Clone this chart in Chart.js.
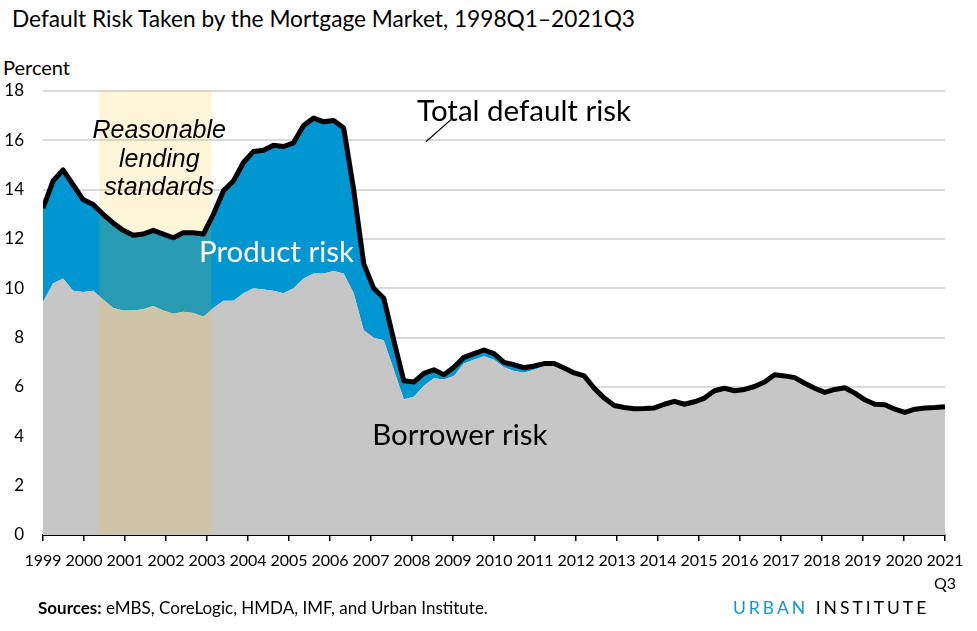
<!DOCTYPE html>
<html>
<head>
<meta charset="utf-8">
<script src="https://cdn.jsdelivr.net/npm/chart.js@4.4.0/dist/chart.umd.min.js"></script>
<style>
  body { margin: 0; background: #fff; font-family: Lato, 'Noto Sans', sans-serif; }
  #wrap { position: relative; width: 977px; height: 631px; overflow: hidden; }
  #box { position: absolute; left: 0; top: 0; width: 977px; height: 600px; }
  .title { position: absolute; left: 12px; top: 5px; font-size: 22.7px; color: #000; white-space: nowrap; }
  .unit { position: absolute; left: 3px; top: 55px; font-size: 20px; color: #000; }
  .source { position: absolute; left: 38px; top: 597px; font-size: 17px; color: #000; }
  .logo { position: absolute; left: 733px; top: 597px; font-size: 17.5px; letter-spacing: 3px; color: #000; }
  .logo span { color: #1696d2; }
</style>
</head>
<body>
<div id="wrap">
  <div class="title">Default Risk Taken by the Mortgage Market, 1998Q1–2021Q3</div>
  <div class="unit">Percent</div>
  <div id="box"><canvas id="riskChart"></canvas></div>
  <div class="source"><b>Sources:</b> eMBS, CoreLogic, HMDA, IMF, and Urban Institute.</div>
  <div class="logo"><span>URBAN</span> INSTITUTE</div>
</div>
<script>
// quarterly values, 1999Q1 .. 2021Q3
const borrowerRisk = [
  9.45, 10.2, 10.4, 9.9, 9.85, 9.9, 9.55, 9.2, 9.1, 9.1,
  9.15, 9.28, 9.1, 8.97, 9.05, 9.0, 8.85, 9.2, 9.5, 9.5,
  9.8, 10.0, 9.95, 9.9, 9.8, 10.0, 10.4, 10.6, 10.6, 10.7,
  10.6, 9.8, 8.3, 8.0, 7.9, 6.7, 5.5, 5.6, 6.05, 6.35,
  6.3, 6.45, 6.95, 7.1, 7.25, 7.1, 6.8, 6.65, 6.58, 6.7,
  6.85, 6.88, 6.7, 6.5, 6.4, 5.9, 5.5, 5.2, 5.1, 5.05,
  5.08, 5.12, 5.27, 5.4, 5.28, 5.38, 5.53, 5.83, 5.93, 5.83,
  5.88, 6.0, 6.18, 6.48, 6.43, 6.36, 6.13, 5.93, 5.76, 5.88,
  5.95, 5.73, 5.46, 5.28, 5.26, 5.08, 4.95, 5.08, 5.13, 5.15,
  5.18
];
const totalRisk = [
  13.25, 14.35, 14.8, 14.2, 13.6, 13.4, 13.0, 12.65, 12.35, 12.15,
  12.2, 12.35, 12.2, 12.05, 12.25, 12.25, 12.2, 13.0, 13.95, 14.35,
  15.1, 15.55, 15.6, 15.8, 15.75, 15.9, 16.6, 16.9, 16.75, 16.8,
  16.5, 14.0, 11.0, 10.0, 9.6, 7.9, 6.25, 6.2, 6.55, 6.7,
  6.5, 6.8, 7.2, 7.35, 7.5, 7.35, 7.0, 6.9, 6.78, 6.85,
  6.95, 6.95, 6.77, 6.57, 6.45, 5.95, 5.55, 5.25, 5.17, 5.12,
  5.13, 5.15, 5.3, 5.42, 5.3, 5.4, 5.55, 5.85, 5.95, 5.85,
  5.9, 6.02, 6.2, 6.5, 6.45, 6.38, 6.15, 5.95, 5.78, 5.9,
  5.97, 5.75, 5.48, 5.3, 5.28, 5.1, 4.97, 5.1, 5.15, 5.17,
  5.2
];
const yearLabels = ['1999','2000','2001','2002','2003','2004','2005','2006','2007','2008','2009',
  '2010','2011','2012','2013','2014','2015','2016','2017','2018','2019','2020','2021'];
const lastTickNote = 'Q3';

// shaded "reasonable lending" period, in quarter index
const bandStart = 5.6;
const bandEnd = 16.8;

const lastIndex = totalRisk.length - 1;
const toPoints = arr => arr.map((v, i) => ({ x: i, y: v }));

const annotations = {
  id: 'annotations',
  beforeDatasetsDraw(chart) {
    const { ctx, chartArea, scales: { x } } = chart;
    ctx.save();
    ctx.fillStyle = 'rgba(255,190,0,0.15)';
    const x0 = x.getPixelForValue(bandStart), x1 = x.getPixelForValue(bandEnd);
    ctx.fillRect(x0, chartArea.top, x1 - x0, chartArea.bottom - chartArea.top);
    ctx.restore();
  },
  afterDatasetsDraw(chart) {
    const { ctx, scales: { x, y } } = chart;
    ctx.save();
    ctx.textAlign = 'center';
    ctx.textBaseline = 'middle';

    ctx.fillStyle = '#000';
    ctx.font = 'italic 25px "Liberation Sans", Arial, sans-serif';
    const cx = x.getPixelForValue(11.6);
    ctx.fillText('Reasonable', cx, y.getPixelForValue(16.38));
    ctx.fillText('lending', cx, y.getPixelForValue(15.22));
    ctx.fillText('standards', cx, y.getPixelForValue(14.05));

    ctx.font = '29.5px Lato, sans-serif';
    ctx.fillStyle = '#fff';
    ctx.fillText('Product risk', x.getPixelForValue(23.3), y.getPixelForValue(11.45));
    ctx.fillStyle = '#000';
    ctx.fillText('Total default risk', x.getPixelForValue(48.0), y.getPixelForValue(17.15));
    ctx.fillText('Borrower risk', x.getPixelForValue(41.6), y.getPixelForValue(4.05));

    ctx.strokeStyle = '#000';
    ctx.lineWidth = 1.3;
    ctx.beginPath();
    ctx.moveTo(x.getPixelForValue(38.2), y.getPixelForValue(15.94));
    ctx.lineTo(x.getPixelForValue(40.8), y.getPixelForValue(16.87));
    ctx.stroke();
    ctx.restore();
  }
};

const ctx = document.getElementById('riskChart').getContext('2d');
new Chart(ctx, {
  type: 'line',
  data: {
    datasets: [{
      label: 'Borrower risk',
      data: toPoints(borrowerRisk),
      borderWidth: 0,
      borderColor: 'rgba(0,0,0,0)',
      backgroundColor: '#c6c6c6',
      fill: 'origin',
      pointRadius: 0,
      tension: 0
    }, {
      label: 'Total default risk',
      data: toPoints(totalRisk),
      borderColor: '#000',
      borderWidth: 5,
      backgroundColor: '#0096d2',
      fill: '-1',
      pointRadius: 0,
      tension: 0,
      borderJoinStyle: 'round'
    }]
  },
  options: {
    responsive: true,
    maintainAspectRatio: false,
    animation: false,
    layout: { padding: { top: 91, right: 32, left: 0, bottom: 0 } },
    plugins: {
      legend: { display: false },
      tooltip: { enabled: false },
      filler: { drawTime: 'beforeDatasetsDraw' }
    },
    scales: {
      x: {
        type: 'linear',
        min: 0,
        max: lastIndex,
        afterBuildTicks: scale => {
          scale.ticks = yearLabels.map((_, k) => ({ value: k * lastIndex / (yearLabels.length - 1) }));
        },
        afterFit: scale => { scale.height = 65; },
        ticks: {
          autoSkip: false,
          maxRotation: 0,
          padding: 8,
          color: '#000',
          font: { family: 'Lato', size: 16, lineHeight: 1.45 },
          callback: (v, i) => i === yearLabels.length - 1 ? [yearLabels[i], lastTickNote] : yearLabels[i]
        },
        grid: { drawOnChartArea: false, drawTicks: true, tickLength: 6, color: '#000', lineWidth: 1.5 },
        border: { display: true, color: '#000', width: 2 }
      },
      y: {
        min: 0,
        max: 18,
        afterFit: scale => { scale.width = 43; },
        ticks: {
          stepSize: 2,
          padding: 19,
          color: '#000',
          font: { family: 'Lato', size: 17 }
        },
        grid: { color: '#d9d9d9', lineWidth: 2, drawTicks: false },
        border: { display: false }
      }
    }
  },
  plugins: [annotations]
});
</script>
</body>
</html>
